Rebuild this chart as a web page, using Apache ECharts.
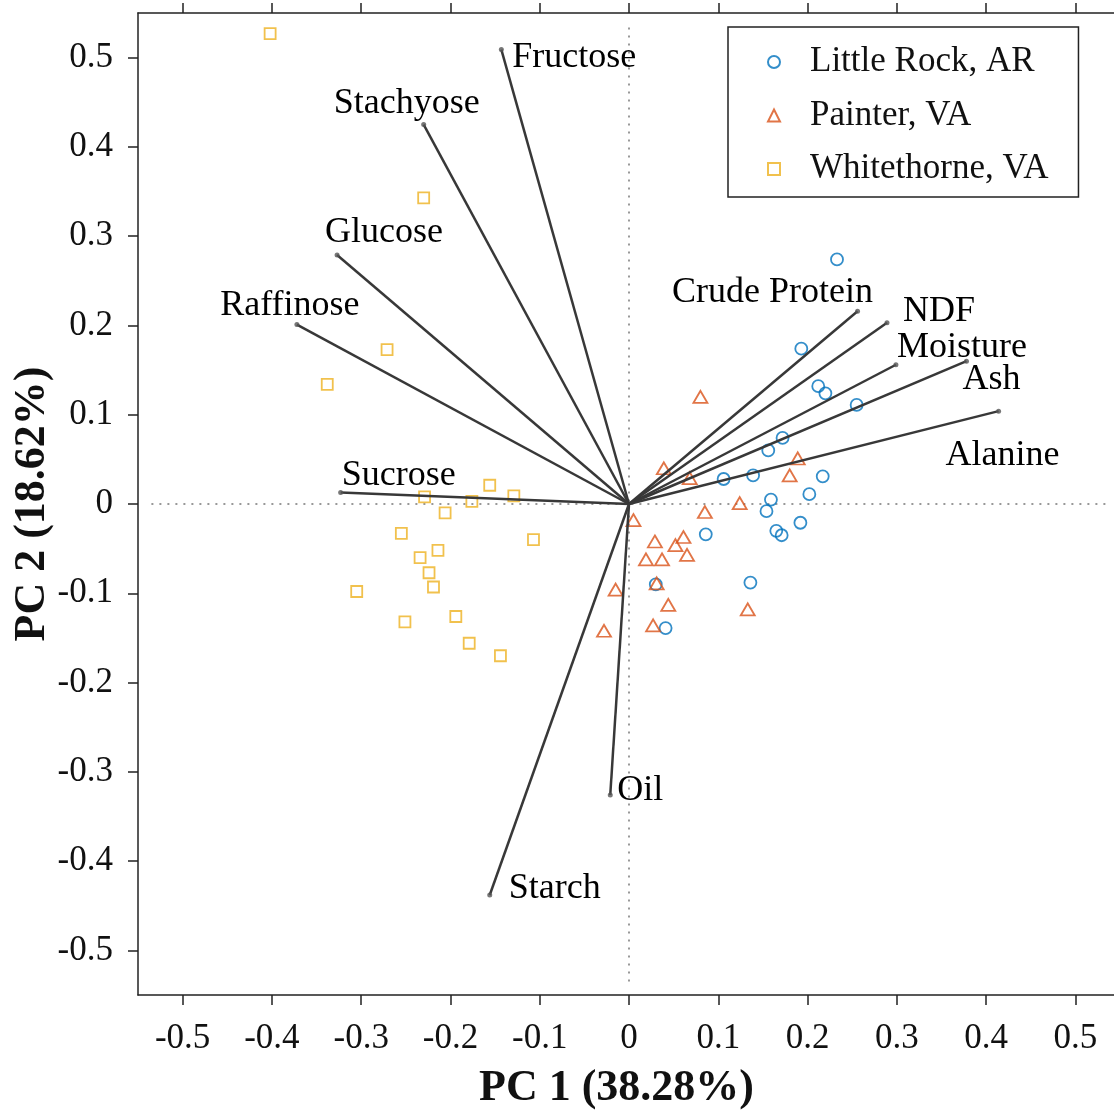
<!DOCTYPE html>
<html><head><meta charset="utf-8">
<script src="https://cdn.jsdelivr.net/npm/echarts@6/dist/echarts.min.js"></script>
<style>html,body{margin:0;padding:0;background:#fff}#c{width:1114px;height:1112px}</style>
</head><body><div id="c"></div>
<script>
// ---------------- data ----------------
const groupNames = ['Little Rock, AR', 'Painter, VA', 'Whitethorne, VA'];

const littleRock = [
  [0.233, 0.274], [0.193, 0.174], [0.212, 0.132], [0.220, 0.124], [0.255, 0.111],
  [0.172, 0.074], [0.156, 0.060], [0.139, 0.032], [0.106, 0.028], [0.217, 0.031],
  [0.202, 0.011], [0.159, 0.005], [0.154, -0.008], [0.192, -0.021], [0.165, -0.030],
  [0.171, -0.035], [0.086, -0.034], [0.136, -0.088], [0.030, -0.090], [0.041, -0.139]
];

const painter = [
  [0.080, 0.120], [0.039, 0.040], [0.068, 0.029], [0.189, 0.051], [0.180, 0.032],
  [0.124, 0.001], [0.085, -0.009], [0.005, -0.018], [0.029, -0.042], [0.061, -0.037],
  [0.052, -0.046], [0.065, -0.057], [0.019, -0.062], [0.037, -0.062], [0.031, -0.089],
  [-0.015, -0.096], [0.044, -0.113], [0.133, -0.118], [0.027, -0.136], [-0.028, -0.142]
];

const whitethorne = [
  [-0.402, 0.527], [-0.230, 0.343], [-0.271, 0.173], [-0.338, 0.134], [-0.156, 0.021],
  [-0.129, 0.009], [-0.229, 0.008], [-0.176, 0.003], [-0.206, -0.010], [-0.107, -0.040],
  [-0.255, -0.033], [-0.214, -0.052], [-0.234, -0.060], [-0.224, -0.077], [-0.219, -0.093],
  [-0.305, -0.098], [-0.194, -0.126], [-0.251, -0.132], [-0.179, -0.156], [-0.144, -0.170]
];

const loadingNames = ['Fructose', 'Stachyose', 'Glucose', 'Raffinose', 'Sucrose', 'Oil', 'Starch',
                      'Crude Protein', 'NDF', 'Moisture', 'Ash', 'Alanine'];
const loadingPC1 = [-0.143, -0.230, -0.327, -0.372, -0.323, -0.021, -0.156, 0.256, 0.289, 0.299, 0.378, 0.414];
const loadingPC2 = [0.509, 0.425, 0.279, 0.201, 0.013, -0.326, -0.438, 0.216, 0.203, 0.156, 0.160, 0.104];

const xTicks = [-0.5, -0.4, -0.3, -0.2, -0.1, 0, 0.1, 0.2, 0.3, 0.4, 0.5];
const yTicks = [-0.5, -0.4, -0.3, -0.2, -0.1, 0, 0.1, 0.2, 0.3, 0.4, 0.5];
const axisRange = [-0.55, 0.55];
const zeroLineExtent = 0.535;

// ---------------- style ----------------
const colors = ['#0072BD', '#D95319', '#EDB120'];
const symbols = ['circle', 'triangle', 'rect'];
const symbolSizes = [12, [14, 12], 11];
const FONT = '"Liberation Serif", "Times New Roman", serif';
// pixel offset of each loading label centre from its arrow tip
const labelOffset = {
  'Fructose': [73, 8], 'Stachyose': [-17, -21], 'Glucose': [47, -22], 'Raffinose': [-7, -19],
  'Sucrose': [58, -17], 'Oil': [30, -4], 'Starch': [65, -6], 'Crude Protein': [-85, -19],
  'NDF': [52, -11], 'Moisture': [66, -17], 'Ash': [25, 18], 'Alanine': [4, 44]
};

const fmt = v => (Math.abs(v) < 1e-9 ? '0' : String(+v.toFixed(1)));
const axisLineStyle = { color: '#222', width: 1.5 };

const chart = echarts.init(document.getElementById('c'), null, { renderer: 'canvas' });

const series = [];
// dotted zero lines
series.push({
  type: 'line', silent: true, symbol: 'none', z: 1,
  data: [[0, -zeroLineExtent], [0, zeroLineExtent]],
  lineStyle: { color: '#777', width: 1.5, type: [2, 6] }
});
series.push({
  type: 'line', silent: true, symbol: 'none', z: 1,
  data: [[-zeroLineExtent, 0], [zeroLineExtent, 0]],
  lineStyle: { color: '#777', width: 1.5, type: [2, 6] }
});

// groups
[littleRock, painter, whitethorne].forEach((d, i) => {
  series.push({
    type: 'scatter', name: groupNames[i], data: d, z: 3,
    symbol: symbols[i], symbolSize: symbolSizes[i],
    itemStyle: { color: 'rgba(255,255,255,0)', borderColor: colors[i], borderWidth: 1.8 }
  });
});

// loading vectors
loadingNames.forEach((n, i) => {
  series.push({
    type: 'line', silent: true, symbol: 'none', z: 4,
    data: [[0, 0], [loadingPC1[i], loadingPC2[i]]],
    lineStyle: { color: '#383838', width: 2.5 }
  });
});
const labelStyle = {
  show: true, position: ['50%', '50%'], align: 'center', verticalAlign: 'middle',
  color: '#000', fontFamily: FONT, fontSize: 36, opacity: 1,
  textBorderWidth: 0, textBorderColor: 'transparent'
};
series.push({
  type: 'scatter', silent: true, z: 5, zlevel: 0, symbol: 'circle', symbolSize: 5,
  itemStyle: { color: '#555' },
  data: loadingNames.map((n, i) => ({
    value: [loadingPC1[i], loadingPC2[i]], name: n,
    label: Object.assign({}, labelStyle, { offset: labelOffset[n], formatter: n })
  })),
  label: labelStyle
});

chart.setOption({
  animation: false,
  backgroundColor: '#fff',
  grid: { left: 138, right: -6, top: 13, bottom: 117, outerBoundsMode: 'none', containLabel: false },
  legend: {
    data: groupNames, orient: 'vertical', left: 728, top: 27,
    itemWidth: 12, itemHeight: 12, itemGap: 13.5,
    padding: [15, 30, 8, 39],
    borderColor: '#222', borderWidth: 1.5, backgroundColor: '#fff',
    textStyle: { fontFamily: FONT, fontSize: 35, color: '#111', lineHeight: 40, padding: [0, 0, 0, 25] }
  },
  xAxis: [{
    type: 'value', min: axisRange[0], max: axisRange[1], position: 'bottom',
    name: 'PC 1 (38.28%)', nameLocation: 'middle', nameGap: 72, nameMoveOverlap: false,
    nameTextStyle: { fontFamily: FONT, fontSize: 44, fontWeight: 'bold', color: '#111', padding: [0, 25, 0, 0] },
    axisLine: { show: true, onZero: false, lineStyle: axisLineStyle },
    axisTick: { show: true, inside: false, length: 10, lineStyle: axisLineStyle, customValues: xTicks },
    axisLabel: { customValues: xTicks, formatter: fmt, margin: 26, fontFamily: FONT, fontSize: 35, color: '#111' },
    splitLine: { show: false }
  }, {
    type: 'value', min: axisRange[0], max: axisRange[1], position: 'top',
    axisLine: { show: true, onZero: false, lineStyle: axisLineStyle },
    axisTick: { show: true, inside: false, length: 10, lineStyle: axisLineStyle, customValues: xTicks },
    axisLabel: { show: false },
    splitLine: { show: false }
  }],
  yAxis: [{
    type: 'value', min: axisRange[0], max: axisRange[1], position: 'left',
    name: 'PC 2 (18.62%)', nameLocation: 'middle', nameGap: 83, nameMoveOverlap: false,
    nameTextStyle: { fontFamily: FONT, fontSize: 44, fontWeight: 'bold', color: '#111' },
    axisLine: { show: true, onZero: false, lineStyle: axisLineStyle },
    axisTick: { show: true, inside: false, length: 10, lineStyle: axisLineStyle, customValues: yTicks },
    axisLabel: { customValues: yTicks, formatter: fmt, margin: 25, fontFamily: FONT, fontSize: 35, color: '#111' },
    splitLine: { show: false }
  }],
  series: series
});
</script>
</body></html>
